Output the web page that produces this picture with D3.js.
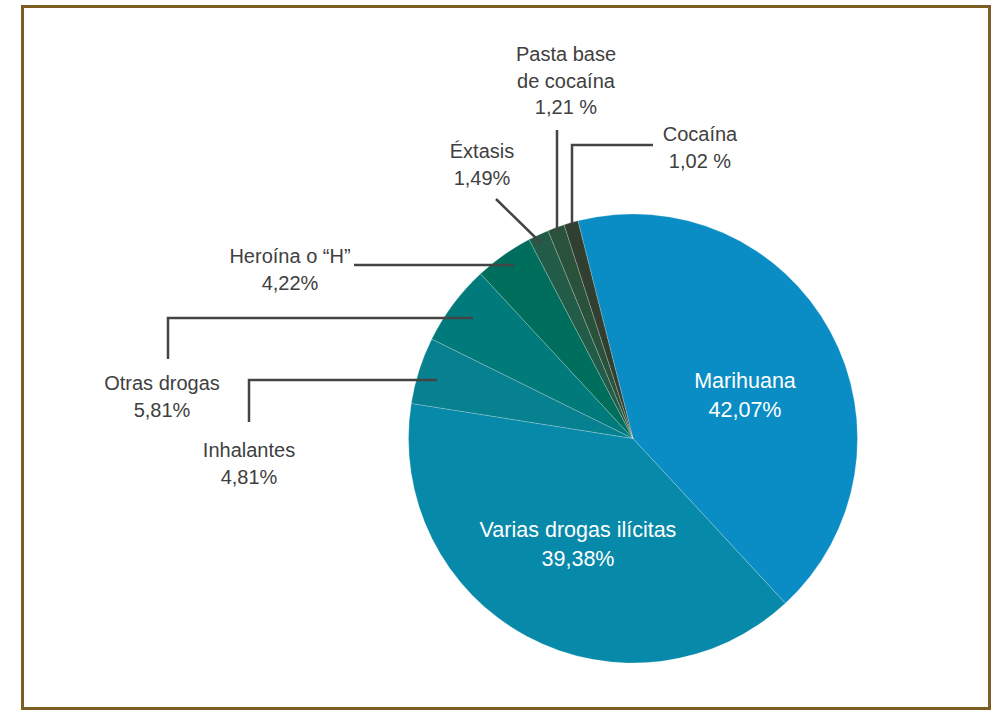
<!DOCTYPE html>
<html>
<head>
<meta charset="utf-8">
<script src="https://cdn.jsdelivr.net/npm/d3@7"></script>
<style>
  body { margin: 0; background: #fff; }
  svg { display: block; }
  text { font-family: "Liberation Sans", Arial, sans-serif; }
</style>
</head>
<body>
<div id="chart"></div>
<script>
// data, clockwise from the top
const categories = ["Marihuana", "Varias drogas ilícitas", "Inhalantes", "Otras drogas", "Heroína o “H”", "Éxtasis", "Pasta base de cocaína", "Cocaína"]
const values = [42.07, 39.38, 4.81, 5.81, 4.22, 1.49, 1.21, 1.02]
const valueLabels = ["42,07%", "39,38%", "4,81%", "5,81%", "4,22%", "1,49%", "1,21 %", "1,02 %"]
const colors = ["#0a8dc4", "#0789a9", "#07818f", "#007a7b", "#006e5c", "#225c48", "#2a513a", "#313f31"]

// label layout (lines of text, anchor, leader line points)
const labelLayout = [
  { inside: true, lines: ["Marihuana"], x: 745, y: 388 },
  { inside: true, lines: ["Varias drogas ilícitas"], x: 578, y: 537 },
  { lines: ["Inhalantes"], x: 249, y: 457, leader: [[437, 380], [249, 380], [249, 422]] },
  { lines: ["Otras drogas"], x: 162, y: 390, leader: [[473, 318], [168, 318], [168, 359]] },
  { lines: ["Heroína o “H”"], x: 290, y: 263, leader: [[514, 265], [354, 265]] },
  { lines: ["Éxtasis"], x: 482, y: 158, leader: [[541, 243], [496, 199]] },
  { lines: ["Pasta base", "de cocaína"], x: 566, y: 61, leader: [[557, 232], [557, 130]] },
  { lines: ["Cocaína"], x: 700, y: 141, leader: [[572, 223], [572, 145], [653, 145]] }
]

const width = 991, height = 711
const cx = 633, cy = 438.5, radius = 224.5

const svg = d3.select("#chart").append("svg")
  .attr("width", width)
  .attr("height", height)

// frame
svg.append("rect")
  .attr("x", 22.5)
  .attr("y", 6.5)
  .attr("width", 967)
  .attr("height", 702)
  .attr("fill", "none")
  .attr("stroke", "#7d5e22")
  .attr("stroke-width", 3)

const start = -14.2 * Math.PI / 180
const pie = d3.pie().sort(null).startAngle(start).endAngle(start + 2 * Math.PI)
const arc = d3.arc().innerRadius(0).outerRadius(radius)

const arcs = pie(values)

const g = svg.append("g").attr("transform", `translate(${cx},${cy})`)

g.selectAll("path")
  .data(arcs)
  .enter().append("path")
  .attr("d", arc)
  .attr("fill", (d, i) => colors[i])
  .attr("stroke", "rgba(255,255,255,0.35)")
  .attr("stroke-width", 0.6)

// leader lines
const line = d3.line()
svg.append("g")
  .selectAll("path")
  .data(labelLayout.filter(d => d.leader))
  .enter().append("path")
  .attr("d", d => line(d.leader))
  .attr("fill", "none")
  .attr("stroke", "#444")
  .attr("stroke-width", 2.5)

// labels
labelLayout.forEach((l, i) => {
  const t = svg.append("text")
    .attr("text-anchor", "middle")
    .attr("fill", l.inside ? "#fff" : "#404040")
    .attr("font-size", l.inside ? 21.5 : 20)
  const rows = l.lines.concat([valueLabels[i]])
  const step = l.inside ? 29 : 26.5
  rows.forEach((r, k) => {
    t.append("tspan")
      .attr("x", l.x)
      .attr("y", l.y + k * step)
      .text(r)
  })
})
</script>
</body>
</html>
